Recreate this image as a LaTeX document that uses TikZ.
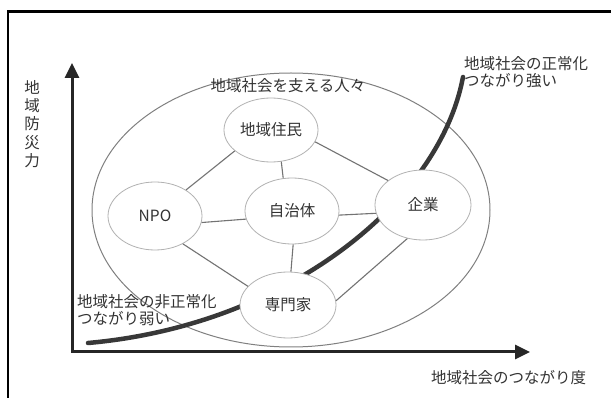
\documentclass[tikz,border=0pt]{standalone}
\usepackage{fontspec}
\setmainfont{Noto Sans CJK JP}
\usetikzlibrary{shapes.geometric,arrows.meta}
\definecolor{txt}{HTML}{333333}
\begin{document}
\begin{tikzpicture}[x=1pt,y=-1pt,
  member/.style={ellipse, draw=black!30, line width=0.8pt, fill=white, inner sep=0pt,
    font=\fontsize{15.5}{16.5}\selectfont, text=txt},
  link/.style={draw=black!55, line width=1.1pt},
  axisline/.style={draw=black!85, line width=3pt, line join=miter,
    {Triangle[length=15pt,width=14pt]}-{Triangle[length=15pt,width=14pt]}},
  lbl/.style={font=\fontsize{15.5}{16.5}\selectfont, text=txt, inner sep=0pt},
  trend/.style={draw=black!78, line width=4.5pt, line cap=round},
  frame/.style={draw=black, line width=2.8pt, line join=miter}]
\useasboundingbox (0,0) rectangle (611,398);
\fill[white] (0,0) rectangle (611,398);
% frame
\draw[frame] (8,398) -- (8,11.5) -- (611,11.5);
% big ellipse
\node[ellipse, draw=black!50, line width=1pt, minimum width=398pt, minimum height=274pt, inner sep=0pt] (society) at (291,210) {};
\node[lbl] (socl) at (288,86) {地域社会を支える人々};
% axes
\coordinate (ytip) at (72,63);
\coordinate (xtip) at (530,352);
\draw[axisline] (ytip) |- (xtip);
% trend curve
\coordinate (cs) at (88,343);
\coordinate (ce) at (463,77);
\draw[trend] (cs) .. controls (290,325) and (440,200) .. (ce);
% members
\node[member, minimum width=94pt, minimum height=64pt] (jumin) at (271,130) {地域住民};
\node[member, minimum width=94pt, minimum height=68pt] (npo) at (155,216) {NPO};
\node[member, minimum width=94pt, minimum height=66pt] (jichi) at (292,211) {自治体};
\node[member, minimum width=96pt, minimum height=70pt] (kigyo) at (423,205) {企業};
\node[member, minimum width=96pt, minimum height=66pt] (senmon) at (288,305) {専門家};
% links
\draw[link] (npo.40) -- (jumin.-150);
\draw[link] (jumin.-72) -- (jichi.105);
\draw[link] (jumin.-15) -- (kigyo.145);
\draw[link] (npo.-8) -- (jichi.190);
\draw[link] (jichi.-5) -- (kigyo.190);
\draw[link] (npo.-45) -- (senmon.155);
\draw[link] (jichi.-88) -- (senmon.85);
\draw[link] (kigyo.-115) -- (senmon.5);
% labels
\node[lbl, align=center, font=\fontsize{15.5}{18.4}\selectfont] (ylab) at (32,124) {地\\域\\防\\災\\力};
\node[lbl, anchor=west] (xlab) at (431,378) {地域社会のつながり度};
\node[lbl, anchor=west, align=left] (hi) at (464,72) {地域社会の正常化\\つながり強い};
\node[lbl, anchor=west, align=left] (lo) at (77,310) {地域社会の非正常化\\つながり弱い};
\end{tikzpicture}
\end{document}
